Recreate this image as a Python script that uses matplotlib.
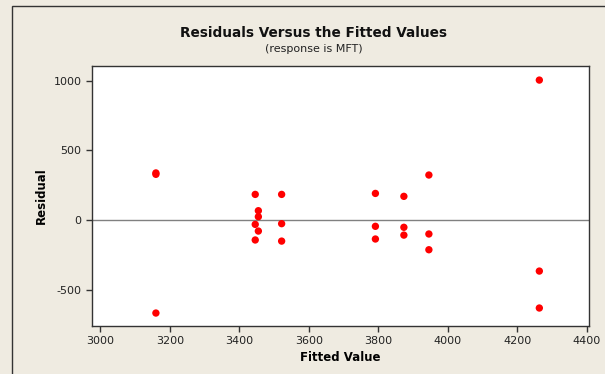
import matplotlib
matplotlib.use("Agg")
import matplotlib.pyplot as plt
from matplotlib.patches import Rectangle

plt.rcParams['axes.unicode_minus'] = False

# fitted values and residuals
fitted = [3160, 3160, 3160,
          3446, 3455, 3455, 3446, 3455, 3446,
          3522, 3522, 3522,
          3792, 3792, 3792,
          3874, 3874, 3874,
          3946, 3946, 3946,
          4264, 4264, 4264]
resid = [338, 328, -667,
         184, 67, 24, -31, -79, -143,
         184, -26, -151,
         191, -45, -136,
         170, -52, -108,
         323, -100, -213,
         1004, -366, -631]

xticks = [3000, 3200, 3400, 3600, 3800, 4000, 4200, 4400]
yticks = [-500, 0, 500, 1000]

bg = '#efebe1'
fig = plt.figure(figsize=(6.05, 3.74), dpi=100, facecolor=bg)

# outer frame (only left and top edges are visible in the crop)
fig.patches.append(Rectangle((12/605, -0.1), 1.2, 1 - 6/374 + 0.1,
                             transform=fig.transFigure, fill=False,
                             edgecolor='#333333', linewidth=1))

ax = fig.add_axes([92/605, 1 - 326/374, 497/605, 260/374])
ax.set_facecolor('white')
ax.axhline(0, color='#808080', linewidth=1, zorder=1)
ax.scatter(fitted, resid, s=28, color='#ff0000', edgecolors='none', zorder=3)

ax.set_xlim(2976, 4407)
ax.set_ylim(-760, 1105)
ax.set_xticks(xticks)
ax.set_yticks(yticks)
ax.tick_params(direction='out', length=4, width=1, colors='#333333',
               labelsize=8, labelcolor='#222222')
for s in ax.spines.values():
    s.set_color('#333333')
    s.set_linewidth(1)

ax.set_xlabel('Fitted Value', fontsize=8.5, fontweight='bold', labelpad=3)
ax.set_ylabel('Residual', fontsize=8.5, fontweight='bold', labelpad=4)

fig.text(314/605, 1 - 33/374, 'Residuals Versus the Fitted Values',
         ha='center', va='center', fontsize=9.8, fontweight='bold', color='#111111')
fig.text(314/605, 1 - 49/374, '(response is MFT)',
         ha='center', va='center', fontsize=8, color='#222222')

fig.savefig('out.png', dpi=100, facecolor=bg)
